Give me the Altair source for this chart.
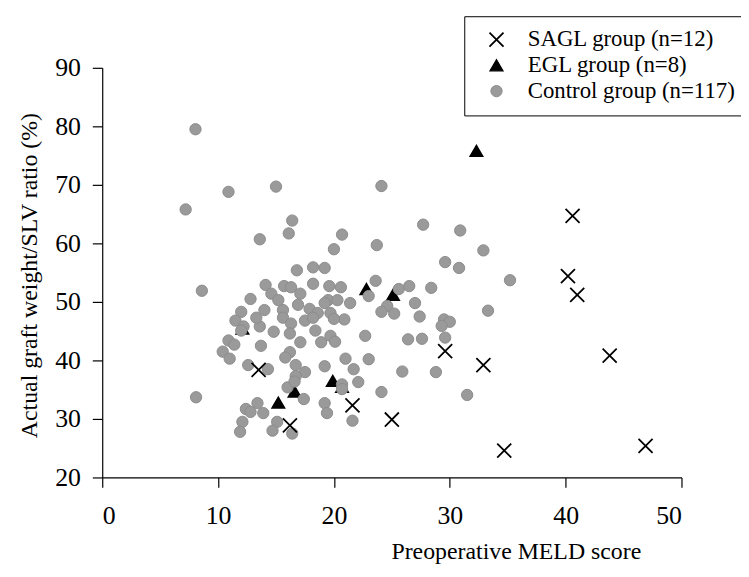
import altair as alt
import pandas as pd

# SAGL group (n=12)
sagl_x = [40.6, 40.2, 41.0, 43.8, 46.9, 34.7, 32.9, 29.6, 25.0, 21.6, 16.2, 13.5]
sagl_y = [64.7, 54.4, 51.2, 40.8, 25.4, 24.6, 39.2, 41.6, 29.9, 32.3, 28.9, 38.4]

# EGL group (n=8)
egl_x = [32.3, 22.8, 25.1, 19.9, 15.2, 16.6, 12.1, 20.7]
egl_y = [75.8, 52.2, 51.2, 36.5, 32.8, 34.7, 45.45, 35.5]

# Control group (n=117)
ctrl_x = [8.05, 10.9, 15.0, 7.2, 16.4, 16.1, 13.6, 20.7, 20.0, 16.8, 18.2, 19.2,
          24.1, 27.7, 30.9, 23.7, 32.9, 29.6, 30.8, 8.6, 35.2, 14.1, 15.7, 16.3,
          18.2, 19.6, 20.6, 14.6, 17.1, 12.8, 19.5, 19.2, 14.0, 15.6, 12.0, 17.9,
          18.6, 19.7, 15.6, 11.5, 17.5, 20.9, 16.3, 12.2, 12.0, 13.6, 14.8, 16.2,
          19.7, 20.1, 10.9, 11.4, 13.7, 17.1, 18.9, 10.4, 11.0, 16.2, 15.8, 21.0,
          12.6, 16.7, 19.2, 17.5, 16.7, 20.7, 20.7, 16.0, 8.1, 17.4, 19.2, 13.4,
          12.4, 12.8, 13.9, 19.4, 12.1, 15.1, 14.7, 11.9, 16.4, 23.6, 23.0, 25.6,
          26.5, 28.4, 21.4, 24.6, 24.1, 25.2, 27.0, 27.4, 29.5, 30.0, 29.3, 20.0,
          33.3, 22.7, 26.4, 27.6, 29.6, 21.7, 23.0, 25.9, 28.8, 22.1, 24.1, 31.5,
          21.6, 18.2, 16.6, 15.2, 18.4, 13.3, 16.9, 20.3, 14.3]
ctrl_y = [79.5, 68.8, 69.7, 65.8, 63.9, 61.7, 60.7, 61.5, 59.0, 55.4, 55.9, 55.8,
          69.8, 63.2, 62.2, 59.7, 58.8, 56.8, 55.8, 51.9, 53.7, 52.9, 52.7, 52.5,
          53.1, 52.7, 52.5, 51.4, 51.4, 50.5, 50.3, 49.8, 48.6, 48.6, 48.3, 48.8,
          48.1, 48.1, 47.3, 46.8, 46.8, 47.0, 46.3, 45.8, 45.1, 45.8, 44.9, 44.6,
          44.2, 43.2, 43.4, 42.7, 42.5, 43.1, 43.1, 41.5, 40.3, 41.4, 40.5, 40.3,
          39.2, 39.2, 39.0, 38.0, 37.3, 35.9, 35.1, 35.4, 33.7, 33.4, 32.7, 32.7,
          31.7, 31.2, 31.0, 31.0, 29.5, 29.5, 28.0, 27.8, 27.5, 53.6, 51.0, 52.2,
          52.7, 52.4, 49.8, 49.3, 48.3, 48.0, 49.8, 47.5, 47.0, 46.6, 45.9, 47.1,
          48.5, 44.2, 43.6, 43.7, 43.9, 38.5, 40.2, 38.1, 38.0, 36.3, 34.6, 34.1,
          29.7, 47.3, 36.4, 50.3, 45.1, 47.3, 49.5, 50.3, 38.5]

groups = ["SAGL group (n=12)", "EGL group (n=8)", "Control group (n=117)"]
x_ticks = [0, 10, 20, 30, 40, 50]
y_ticks = [20, 30, 40, 50, 60, 70, 80, 90]

rows = []
for x, y in zip(egl_x, egl_y):
    rows.append({"meld": x, "ratio": y, "group": groups[1], "order": 0})
for x, y in zip(ctrl_x, ctrl_y):
    rows.append({"meld": x, "ratio": y, "group": groups[2], "order": 1})
for x, y in zip(sagl_x, sagl_y):
    rows.append({"meld": x, "ratio": y, "group": groups[0], "order": 2})
df = pd.DataFrame(rows)

FONT = "'Liberation Serif', 'Times New Roman', Times, serif"
XPATH = "M-1,-1L1,1M-1,1L1,-1"

chart = alt.Chart(df).mark_point(opacity=1).encode(
    x=alt.X("meld:Q", scale=alt.Scale(domain=[0, 50], nice=False, zero=False),
            axis=alt.Axis(values=x_ticks, title="Preoperative MELD score",
                          titleX=417, titleY=82, titleAlign="center",
                          titleBaseline="alphabetic", labelPadding=15)),
    y=alt.Y("ratio:Q", scale=alt.Scale(domain=[20, 90], nice=False, zero=False),
            axis=alt.Axis(values=y_ticks, title="Actual graft weight/SLV ratio (%)",
                          titleX=-73, titleY=209, titleAlign="center",
                          titleBaseline="middle", titleAngle=270, labelPadding=12)),
    shape=alt.Shape("group:N", scale=alt.Scale(domain=groups, range=[XPATH, "triangle-up", "circle"]), title=None),
    fill=alt.Fill("group:N", scale=alt.Scale(domain=groups, range=["transparent", "#000000", "#9a9a9a"]), title=None),
    stroke=alt.Stroke("group:N", scale=alt.Scale(domain=groups, range=["#000000", "#000000", "#8c8c8c"]), title=None),
    strokeWidth=alt.StrokeWidth("group:N", scale=alt.Scale(domain=groups, range=[1.8, 1.0, 0.8]), title=None),
    size=alt.Size("group:N", scale=alt.Scale(domain=groups, range=[200, 130, 52]), title=None),
    order=alt.Order("order:Q"),
).properties(
    width=584, height=413,
    autosize=alt.AutoSizeParams(type="none"),
    padding={"left": 95, "top": 58, "right": 60, "bottom": 90},
).configure_view(stroke=None).configure_axis(
    grid=False, domainColor="black", tickColor="black", domainWidth=1.2, tickWidth=1.2,
    tickSize=10, labelFont=FONT, labelFontSize=26, labelColor="black",
    titleFont=FONT, titleFontSize=24, titleFontWeight="normal", titleColor="black",
).configure_legend(
    orient="none", legendX=365, legendY=-52, strokeColor="black", strokeWidth=1,
    fillColor="white", padding=12, labelFont=FONT, labelFontSize=23, labelColor="black",
    labelOffset=20, symbolOffset=9, rowPadding=2, labelLimit=400,
)

chart.save("out.html", embed_options={"renderer": "svg", "actions": False})
